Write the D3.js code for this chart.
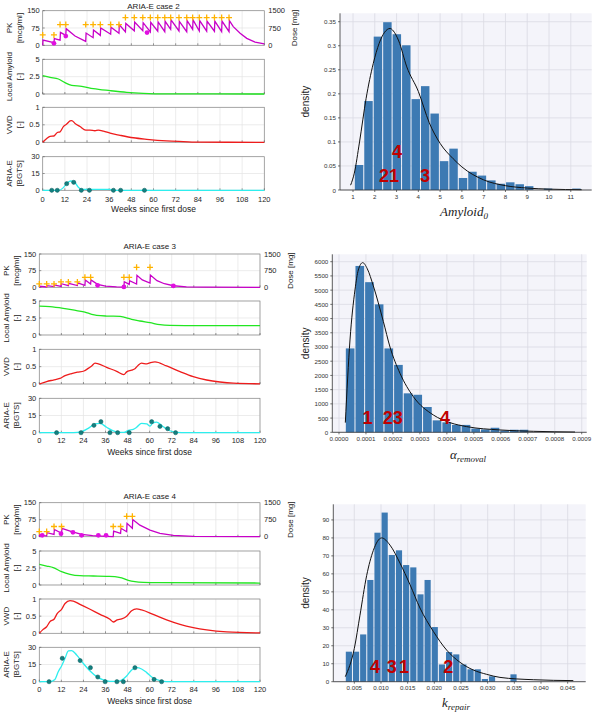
<!DOCTYPE html>
<html><head><meta charset="utf-8">
<script src="https://cdn.jsdelivr.net/npm/d3@7"></script>
<style>body{margin:0;background:#fff}</style>
</head><body>
<svg id="c" width="600" height="715"></svg>
<script>
// ---------------- DATA ----------------
const weekTicks = [0,12,24,36,48,60,72,84,96,108,120];
const pkTicks = [0,75,150], doseTicks = [0,750,1500], amyTicks = [0,2.5,5], vwdTicks = [0,0.5,1], ariaTicks = [0,15,30];

// Case 2
const c2Pk = [[0,0],[0.2,23],[6.1,11.5],[6.3,29],[9.4,22],[9.6,56],[12.5,43],[12.7,72],[17.5,40],[23.3,17],[23.5,53],[27.3,33],[27.5,66],[31.2,43],[31.4,75],[36.8,48],[37,78],[41.3,52],[41.5,89],[44.8,58],[45,95],[49.6,63],[49.8,101],[54.2,63],[54.4,98],[58.3,58],[58.5,100],[62.3,61],[62.5,101],[66.1,59],[66.3,104],[69.3,69],[69.5,110],[73.8,62],[74,104],[78,59],[78.2,107],[81.2,69],[81.4,110],[84.8,62],[85,107],[88.8,61],[89,105],[93,61],[93.2,105],[96.9,59],[97.1,105],[100.9,59],[101.1,107],[103.2,81],[106.9,52],[110.5,30],[115,14],[120,6]];
const c2DoseWeeks = [0,6.1,9.4,12.5,23.3,27.3,31.2,36.8,41.3,44.8,49.6,54.2,58.3,62.3,66.1,69.3,73.8,78,81.2,84.8,88.8,93,96.9,100.9];
const c2DoseMg = [450,450,900,900,900,900,900,900,900,1200,1200,1200,1200,1200,1200,1200,1200,1200,1200,1200,1200,1200,1200,1200];
const c2PkObs = [[6.1,8.7],[12.5,40],[56.5,55]];
const c2Amy = [[0,2.64],[4,2.4],[8.5,2.16],[12.1,1.63],[15.7,1.25],[21.1,1.11],[27.4,0.77],[36.5,0.48],[45.5,0.24],[54.5,0.1],[67,0.02],[120,0]];
const c2Vwd = [[0,0],[2.2,0.11],[4,0.17],[6.1,0.18],[7.9,0.28],[9.4,0.3],[11.2,0.45],[13,0.52],[14.8,0.61],[15.7,0.62],[17.5,0.54],[20.2,0.45],[23.3,0.35],[25.6,0.35],[28.3,0.33],[30.1,0.35],[32.9,0.32],[36.5,0.26],[41.9,0.2],[49.1,0.13],[56.3,0.086],[67.1,0.038],[76.2,0.02],[85.2,0.005],[120,0]];
const c2Aria = [[0,0],[8.5,0],[11.2,2.4],[13,6.2],[15.2,8.3],[17,7.7],[19.3,2.7],[21.1,0.9],[36.5,0.9],[38.3,0],[120,0]];
const c2AriaObs = [[4.9,0],[7.9,0],[13,5.9],[16.8,7.1],[20.9,0],[25.3,0],[38.3,0],[42.2,0],[55.1,0]];

// Case 3
const c3Pk = [[0,0],[0.2,4.5],[4,1.5],[4.2,7.5],[8,3],[8.2,10.5],[11.8,4],[12,16],[15.8,7],[16,18],[20.7,8],[20.9,20],[24.8,9],[25,33],[27.9,15],[28.1,33],[31.7,13],[36,5],[42,1.5],[46,0.5],[46.2,25],[48.9,13],[49.1,30],[52.9,15],[53.1,54],[56,33],[60.2,19],[60.4,55],[64,30],[68,16],[72.9,7],[80,2],[90,0.5],[120,0]];
const c3DoseWeeks = [0,4,8,11.8,15.8,20.7,24.8,27.9,46,48.9,52.9,60.2];
const c3DoseMg = [150,150,150,240,240,240,450,450,450,450,900,900];
const c3PkObs = [[31.7,9],[46,1.5],[72.9,6]];
const c3Amy = [[0,4.26],[5.8,4.17],[13,3.92],[20.3,3.58],[24.8,3.38],[28.5,3.04],[31.2,2.89],[36.6,2.79],[43.9,2.75],[46.6,2.6],[50.2,2.3],[54.7,2.06],[60.2,1.81],[65.6,1.52],[71,1.42],[87.4,1.37],[120,1.37]];
const c3Vwd = [[0,0],[4,0.07],[7.6,0.115],[11.2,0.16],[14,0.24],[17.6,0.3],[20.7,0.34],[24.3,0.375],[26.6,0.45],[28.5,0.52],[30.3,0.6],[32.1,0.58],[36.6,0.48],[42.1,0.365],[46,0.27],[47.5,0.35],[50.2,0.4],[52,0.44],[53.8,0.54],[55.6,0.6],[58.4,0.58],[60.5,0.615],[62.9,0.635],[69.2,0.52],[76.5,0.356],[83.7,0.21],[91,0.115],[98.2,0.058],[105.5,0.024],[120,0.005]];
const c3Aria = [[0,0],[18.5,0],[23,0.9],[26.6,3.8],[30.3,7.6],[33,8.2],[36.6,4.7],[40.2,1.5],[43.9,0.3],[46,0.2],[48.4,2],[51.1,2.9],[52.9,4.7],[55.6,8.2],[58.4,7.6],[60.2,5.8],[61.6,8.2],[63.8,9.3],[67.4,5.2],[71,1.7],[74.7,0.3],[80,0],[120,0]];
const c3AriaObs = [[9.4,0],[22.7,0],[29.7,6.4],[33.5,9.6],[38.4,0],[42.6,0],[48.9,0],[61.1,9.6],[65.6,5.5],[69.8,3.5],[74.1,0]];

// Case 4
const c4Pk = [[0,0],[0.2,10],[4,3],[4.2,17.6],[8,10],[8.2,32],[12.1,15],[12.3,37],[17.6,22],[23,10],[29,4.4],[36.2,1.5],[40.2,0.5],[40.4,25],[44.2,15],[44.4,37],[47.5,22],[47.7,59],[50.6,37],[50.8,76],[54.7,51],[60.2,29],[65.6,15],[72.9,6],[83.7,1.5],[120,0]];
const c4DoseWeeks = [0,4,8,12.1,40.2,44.2,47.5,50.6];
const c4DoseMg = [225,225,450,450,450,450,900,900];
const c4PkObs = [[1.6,5.9],[11.8,13.2],[18.3,19.1],[23,5.9],[32.1,5.9],[36.3,5.9]];
const c4Amy = [[0,3.04],[4,2.79],[7.6,2.55],[12.1,1.96],[16.7,1.57],[22.1,1.37],[29.4,1.32],[36.6,1.27],[41.1,1.23],[44.8,1.03],[48.4,0.69],[52,0.49],[56.6,0.39],[65.6,0.34],[120,0.29]];
const c4Vwd = [[0,0],[1.8,0.1],[4,0.19],[5.8,0.34],[8,0.41],[9.8,0.58],[12.1,0.7],[14,0.87],[16.7,0.95],[18.5,0.94],[22.1,0.845],[27.6,0.7],[33,0.553],[38.4,0.41],[40.2,0.33],[42.4,0.39],[44.8,0.42],[47.5,0.5],[50.2,0.66],[52.9,0.71],[55.6,0.68],[61.9,0.553],[69.2,0.39],[76.5,0.26],[83.7,0.165],[91,0.097],[101.9,0.039],[120,0.01]];
const c4Aria = [[0,0],[5.8,0],[8.5,2],[10.3,8.7],[12.1,13.7],[14,20.4],[15.8,26.8],[17.6,27.1],[20.3,23.3],[23.9,16],[27.6,9.3],[31.2,4.4],[34.8,1.5],[38.4,0.3],[42,0.3],[44.8,1.5],[47.5,5],[50.2,10.2],[52.9,12.2],[55.6,11.1],[58.4,7.9],[62,3.2],[65.6,0.9],[69.2,0],[120,0]];
const c4AriaObs = [[5.3,0],[12.5,20.4],[22.2,18.4],[27.8,12.2],[31.8,4.1],[35.8,0],[42.2,0],[45.7,0],[52,12.2],[62.4,2],[66.5,0]];

// Histograms
const amyBinStart = 1.06, amyBinWidth = 0.434;
const amyDensity = [0.052,0.185,0.319,0.349,0.324,0.301,0.189,0.216,0.159,0.06,0.086,0.025,0.038,0.03,0.02,0.013,0.016,0.012,0.008,0,0.003,0,0,0.003];
const amyFit = [[0.89,0.01],[1.06,0.035],[1.3,0.1],[1.6,0.19],[1.93,0.263],[2.2,0.305],[2.45,0.328],[2.7,0.336],[2.85,0.331],[3.1,0.31],[3.47,0.256],[4.0,0.205],[4.5,0.14],[5.0,0.097],[5.6,0.065],[6.0,0.048],[7.0,0.021],[8.0,0.009],[9.0,0.004],[10.0,0.0018],[11.5,0.0006]];
const amyXTicks = [1,2,3,4,5,6,7,8,9,10,11];
const amyYTicks = [0,0.05,0.1,0.15,0.2,0.25,0.3,0.35];
const amyCaseLabels = [["4",3.02,0.078],["21",2.65,0.03],["3",4.31,0.03]];

const alphaBinStart = 0.0000235, alphaBinWidth = 0.0000358;
const alphaDensity = [2950,5850,5280,4500,2950,2370,1370,1320,890,420,350,260,260,130,100,160,60,90,90];
const alphaFit = [[0.0000235,340],[0.0000408,3247],[0.0000593,5006],[0.0000717,5709],[0.0000878,5967],[0.000105,5750],[0.0001273,5150],[0.0001644,3900],[0.0001891,3000],[0.0002262,2075],[0.0002756,1254],[0.0003498,610],[0.0004116,340],[0.0004734,200],[0.000597,82],[0.0007206,35],[0.0008752,10]];
const alphaXTicks = [0,0.0001,0.0002,0.0003,0.0004,0.0005,0.0006,0.0007,0.0008,0.0009];
const alphaYTicks = [0,500,1000,1500,2000,2500,3000,3500,4000,4500,5000,5500,6000];
const alphaCaseLabels = [["1",0.000106,490],["23",0.000199,490],["4",0.000393,490]];

const kBinStart = 0.00331, kBinWidth = 0.001342;
const kDensity = [16.7,16.7,26.3,56.6,82.9,94.1,70.5,73.1,64.9,63.6,48.6,56.6,30.4,9.6,16.5,15.2,9.6,6.9,6.9,1.5,3.0,0,0,4.1];
const kFit = [[0.00331,2.8],[0.005,18.5],[0.00606,37],[0.00731,59],[0.00856,73],[0.01013,80],[0.01169,76],[0.01356,66],[0.01544,54],[0.01731,41],[0.01981,28],[0.02231,17.6],[0.02481,10.8],[0.02731,6.5],[0.02981,4.1],[0.03231,2.4],[0.03856,1.1],[0.04606,0.6]];
const kXTicks = [0.005,0.01,0.015,0.02,0.025,0.03,0.035,0.04,0.045];
const kYTicks = [0,10,20,30,40,50,60,70,80,90];
const kCaseLabels = [["4",0.0089,8],["3",0.0120,8],["1",0.0143,8],["2",0.0226,8]];

// ---------------- DRAW ----------------
const svg = d3.select('#c');
const FONT = "'Liberation Sans', Arial, sans-serif";

function drawCase(lay, d) {
  const g = svg.append('g');
  const x = d3.scaleLinear().domain([0,120]).range([lay.x0, lay.x1]);
  const panels = [
    {rng: lay.pk, dom:[0,150], ticks: pkTicks, lab:['PK','[mcg/ml]'], data:d.pk, color:'#c800c8'},
    {rng: lay.amy, dom:[0,5], ticks: amyTicks, lab:['Local Amyloid','[-]'], data:d.amy, color:'#22e622'},
    {rng: lay.vwd, dom:[0,1], ticks: vwdTicks, lab:['VWD','[-]'], data:d.vwd, color:'#ee1c1c'},
    {rng: lay.aria, dom:[0,30], ticks: ariaTicks, lab:['ARIA-E','[BGTS]'], data:d.aria, color:'#2eeeee'}
  ];
  g.append('text').attr('x', (lay.x0+lay.x1)/2).attr('y', lay.titleY).attr('text-anchor','middle')
    .attr('dominant-baseline','central').attr('font-family',FONT).attr('font-size',8).attr('fill','#222').text(lay.title);
  panels.forEach((p, i) => {
    const y = d3.scaleLinear().domain(p.dom).range([p.rng[1], p.rng[0]]);
    const pg = g.append('g');
    pg.append('rect').attr('x',lay.x0).attr('y',p.rng[0]).attr('width',lay.x1-lay.x0).attr('height',p.rng[1]-p.rng[0]).attr('fill','#fff');
    // grid
    pg.selectAll('.vg').data(weekTicks).join('line').attr('x1',v=>x(v)).attr('x2',v=>x(v)).attr('y1',p.rng[0]).attr('y2',p.rng[1]).attr('stroke','#e4e4e4').attr('stroke-width',0.7);
    pg.selectAll('.hg').data(p.ticks).join('line').attr('x1',lay.x0).attr('x2',lay.x1).attr('y1',v=>y(v)).attr('y2',v=>y(v)).attr('stroke','#e4e4e4').attr('stroke-width',0.7);
    pg.append('rect').attr('x',lay.x0).attr('y',p.rng[0]).attr('width',lay.x1-lay.x0).attr('height',p.rng[1]-p.rng[0])
      .attr('fill','none').attr('stroke','#8a8a8a').attr('stroke-width',0.7);
    // y tick labels
    pg.selectAll('.yl').data(p.ticks).join('text').attr('x',lay.x0-3).attr('y',v=>y(v)).attr('text-anchor','end')
      .attr('dominant-baseline','central').attr('font-family',FONT).attr('font-size',7.5).attr('fill','#262626').text(v=>String(v));
    // ticks inward
    pg.selectAll('.yt').data(p.ticks).join('line').attr('x1',lay.x0).attr('x2',lay.x0+2).attr('y1',v=>y(v)).attr('y2',v=>y(v)).attr('stroke','#555').attr('stroke-width',0.6);
    pg.selectAll('.xt').data(weekTicks).join('line').attr('x1',v=>x(v)).attr('x2',v=>x(v)).attr('y1',p.rng[1]).attr('y2',p.rng[1]-2).attr('stroke','#555').attr('stroke-width',0.6);
    // y labels
    const cy = (p.rng[0]+p.rng[1])/2;
    pg.append('text').attr('transform',`translate(${lay.x0-33},${cy}) rotate(-90)`).attr('text-anchor','middle').attr('dominant-baseline','central')
      .attr('font-family',FONT).attr('font-size',8).attr('fill','#222').text(p.lab[0]);
    pg.append('text').attr('transform',`translate(${lay.x0-23},${cy}) rotate(-90)`).attr('text-anchor','middle').attr('dominant-baseline','central')
      .attr('font-family',FONT).attr('font-size',8).attr('fill','#222').text(p.lab[1]);
    // line
    const line = d3.line().x(q=>x(q[0])).y(q=>y(q[1])).curve(i===0 ? d3.curveLinear : d3.curveMonotoneX);
    pg.append('path').datum(p.data).attr('d',line).attr('fill','none').attr('stroke',p.color).attr('stroke-width',1.3);
    if (i===0) {
      const yd = d3.scaleLinear().domain([0,1500]).range([p.rng[1], p.rng[0]]);
      pg.selectAll('.rl').data(doseTicks).join('text').attr('x',lay.x1+4).attr('y',v=>yd(v)).attr('text-anchor','start')
        .attr('dominant-baseline','central').attr('font-family',FONT).attr('font-size',7.5).attr('fill','#262626').text(v=>String(v));
      pg.append('text').attr('transform',`translate(${lay.x1+30},${cy}) rotate(-90)`).attr('text-anchor','middle').attr('dominant-baseline','central')
        .attr('font-family',FONT).attr('font-size',8).attr('fill','#222').text('Dose [mg]');
      pg.selectAll('.obs').data(d.pkObs).join('circle').attr('cx',q=>x(q[0])).attr('cy',q=>y(q[1])).attr('r',2.4).attr('fill','#e010e0');
      pg.selectAll('.dose').data(d.doseWeeks).join('path')
        .attr('transform',(w,k)=>`translate(${x(w)},${yd(d.doseMg[k])})`)
        .attr('d','M-3,0H3M0,-3V3').attr('stroke','#ffb300').attr('stroke-width',1.3).attr('fill','none');
    }
    if (i===3) {
      pg.selectAll('.aobs').data(d.ariaObs).join('circle').attr('cx',q=>x(q[0])).attr('cy',q=>y(q[1])).attr('r',2.1)
        .attr('fill','#138080').attr('stroke','#0b5a5a').attr('stroke-width',0.5);
      pg.selectAll('.xl').data(weekTicks).join('text').attr('x',v=>x(v)).attr('y',lay.tickY).attr('text-anchor','middle')
        .attr('dominant-baseline','central').attr('font-family',FONT).attr('font-size',7.5).attr('fill','#262626').text(v=>String(v));
      pg.append('text').attr('x',(lay.x0+lay.x1)/2).attr('y',lay.labelY).attr('text-anchor','middle').attr('dominant-baseline','central')
        .attr('font-family',FONT).attr('font-size',8.5).attr('fill','#222').text('Weeks since first dose');
    }
  });
}

drawCase({x0:42.7,x1:264.3,pk:[10.7,45.3],amy:[59.3,94],vwd:[107.3,142.3],aria:[156.7,190.3],titleY:6,tickY:199.5,labelY:209,title:'ARIA-E case 2'},
  {pk:c2Pk,doseWeeks:c2DoseWeeks,doseMg:c2DoseMg,pkObs:c2PkObs,amy:c2Amy,vwd:c2Vwd,aria:c2Aria,ariaObs:c2AriaObs});
drawCase({x0:39.3,x1:260,pk:[254,287.3],amy:[301,335],vwd:[349.3,384],aria:[398.3,432.7],titleY:246.7,tickY:440,labelY:451.7,title:'ARIA-E case 3'},
  {pk:c3Pk,doseWeeks:c3DoseWeeks,doseMg:c3DoseMg,pkObs:c3PkObs,amy:c3Amy,vwd:c3Vwd,aria:c3Aria,ariaObs:c3AriaObs});
drawCase({x0:39.3,x1:260,pk:[502.7,536.7],amy:[551,585],vwd:[599,633.3],aria:[647.3,681.7],titleY:496.7,tickY:689.3,labelY:700.7,title:'ARIA-E case 4'},
  {pk:c4Pk,doseWeeks:c4DoseWeeks,doseMg:c4DoseMg,pkObs:c4PkObs,amy:c4Amy,vwd:c4Vwd,aria:c4Aria,ariaObs:c4AriaObs});

function drawHist(h) {
  const g = svg.append('g');
  const x = d3.scaleLinear().domain(h.xDom).range([h.left, h.right]);
  const y = d3.scaleLinear().domain(h.yDom).range([h.bottom, h.top]);
  g.append('rect').attr('x',h.left).attr('y',h.top).attr('width',h.right-h.left).attr('height',h.bottom-h.top).attr('fill','#f4f4fa');
  g.selectAll('.vg').data(h.xTicks).join('line').attr('x1',v=>x(v)).attr('x2',v=>x(v)).attr('y1',h.top).attr('y2',h.bottom).attr('stroke','#dadae3').attr('stroke-width',0.8);
  g.selectAll('.hg').data(h.yTicks).join('line').attr('x1',h.left).attr('x2',h.right).attr('y1',v=>y(v)).attr('y2',v=>y(v)).attr('stroke','#dadae3').attr('stroke-width',0.8);
  g.selectAll('.bar').data(h.values).join('rect')
    .attr('x',(v,i)=>x(h.binStart+i*h.binWidth)+0.5)
    .attr('width',(v,i)=>x(h.binStart+(i+1)*h.binWidth)-x(h.binStart+i*h.binWidth)-1)
    .attr('y',v=>y(v)).attr('height',v=>h.bottom-y(v)).attr('fill','#3d7ab3');
  const line = d3.line().x(q=>x(q[0])).y(q=>y(q[1])).curve(d3.curveMonotoneX);
  g.append('path').datum(h.fit).attr('d',line).attr('fill','none').attr('stroke','#111').attr('stroke-width',1);
  // axes
  g.append('line').attr('x1',h.left).attr('x2',h.left).attr('y1',h.top).attr('y2',h.bottom).attr('stroke','#333').attr('stroke-width',0.8);
  g.append('line').attr('x1',h.left).attr('x2',h.right).attr('y1',h.bottom).attr('y2',h.bottom).attr('stroke','#333').attr('stroke-width',0.8);
  g.selectAll('.yt').data(h.yTicks).join('line').attr('x1',h.left-2).attr('x2',h.left).attr('y1',v=>y(v)).attr('y2',v=>y(v)).attr('stroke','#333').attr('stroke-width',0.7);
  g.selectAll('.xt').data(h.xTicks).join('line').attr('x1',v=>x(v)).attr('x2',v=>x(v)).attr('y1',h.bottom).attr('y2',h.bottom+2).attr('stroke','#333').attr('stroke-width',0.7);
  g.selectAll('.yl').data(h.yTicks).join('text').attr('x',h.left-4).attr('y',v=>y(v)).attr('text-anchor','end').attr('dominant-baseline','central')
    .attr('font-family',FONT).attr('font-size',6.2).attr('fill','#333').text(h.yFmt);
  g.selectAll('.xl').data(h.xTicks).join('text').attr('x',v=>x(v)).attr('y',h.bottom+6).attr('text-anchor','middle').attr('dominant-baseline','central')
    .attr('font-family',FONT).attr('font-size',6.2).attr('fill','#333').text(h.xFmt);
  g.append('text').attr('transform',`translate(305,${(h.top+h.bottom)/2}) rotate(-90)`).attr('text-anchor','middle').attr('dominant-baseline','central')
    .attr('font-family',FONT).attr('font-size',10).attr('fill','#222').text('density');
  const xl = g.append('text').attr('x',h.labX).attr('y',h.labY).attr('text-anchor','middle')
    .attr('font-family',"'Liberation Serif','DejaVu Serif',serif").attr('font-style','italic').attr('font-size',13).attr('fill','#222');
  xl.append('tspan').text(h.labMain);
  xl.append('tspan').attr('dy',3).attr('font-size',9).text(h.labSub);
  g.selectAll('.num').data(h.nums).join('text').attr('x',q=>x(q[1])).attr('y',q=>y(q[2])).attr('text-anchor','middle').attr('dominant-baseline','central')
    .attr('font-family',FONT).attr('font-weight','bold').attr('font-size',18).attr('fill','#c00000').text(q=>q[0]);
}

drawHist({left:340,right:591.7,top:13.3,bottom:190,xDom:[0.403,11.96],yDom:[0,0.3675],
  binStart:amyBinStart,binWidth:amyBinWidth,values:amyDensity,fit:amyFit,xTicks:amyXTicks,yTicks:amyYTicks,
  xFmt:v=>String(v),yFmt:v=>String(v),labX:464,labY:216,labMain:'Amyloid',labSub:'0',nums:amyCaseLabels});
drawHist({left:332.3,right:586.7,top:254.3,bottom:432.3,xDom:[-0.0000248,0.0009185],yDom:[0,6260],
  binStart:alphaBinStart,binWidth:alphaBinWidth,values:alphaDensity,fit:alphaFit,xTicks:alphaXTicks,yTicks:alphaYTicks,
  xFmt:d3.format('.4f'),yFmt:v=>String(v),labX:468,labY:459,labMain:'α',labSub:'removal',nums:alphaCaseLabels});
drawHist({left:333.3,right:585.7,top:504.3,bottom:681.7,xDom:[0.00106,0.04838],yDom:[0,98.7],
  binStart:kBinStart,binWidth:kBinWidth,values:kDensity,fit:kFit,xTicks:kXTicks,yTicks:kYTicks,
  xFmt:d3.format('.3f'),yFmt:v=>String(v),labX:456,labY:707,labMain:'k',labSub:'repair',nums:kCaseLabels});
</script>
</body></html>
